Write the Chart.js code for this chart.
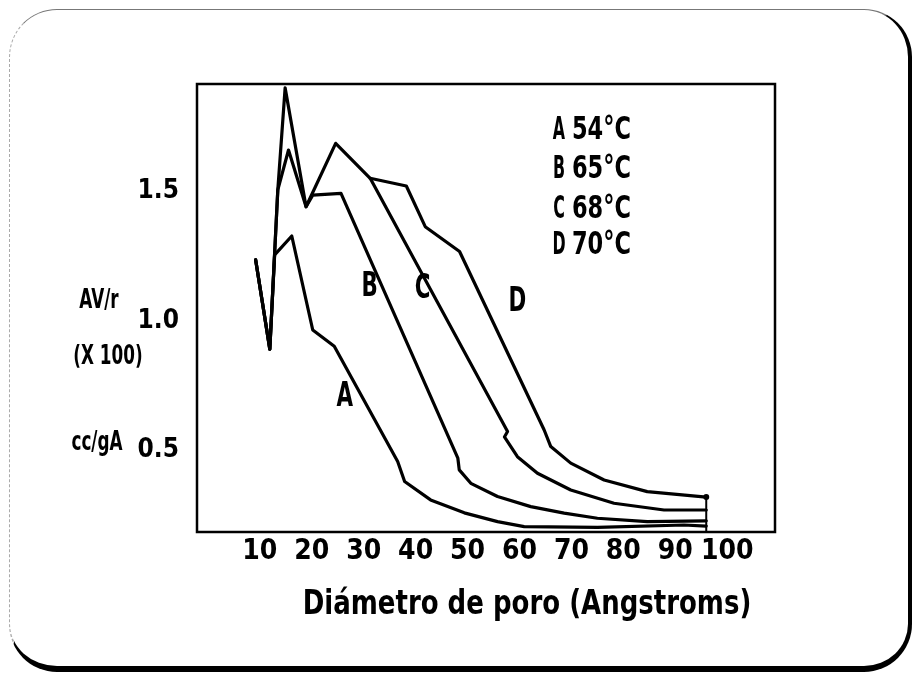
<!DOCTYPE html>
<html>
<head>
<meta charset="utf-8">
<script src="https://cdn.jsdelivr.net/npm/chart.js@4.4.1/dist/chart.umd.min.js"></script>
<style>
  html, body { margin: 0; padding: 0; background: #fff; }
  #wrap { position: relative; width: 920px; height: 684px; overflow: hidden; background: #fff; }
  #frame {
    position: absolute; left: 9px; top: 9px; width: 898px; height: 656px;
    border-radius: 48px;
    border-top: 1.5px solid #777;
    border-left: 1px dashed #aaa;
    border-right: 4px solid #000;
    border-bottom: 6px solid #000;
  }
  canvas { position: absolute; left: 0; top: 0; }
</style>
</head>
<body>
<div id="wrap">
  <div id="frame"></div>
  <canvas id="c" width="920" height="684"></canvas>
</div>
<script>
// ---------------- data ----------------
const xTicks = [10, 20, 30, 40, 50, 60, 70, 80, 90, 100];
const yTicks = [0.5, 1.0, 1.5];

const curveNames = ['A', 'B', 'C', 'D'];
const curveTemps = ['54°C', '65°C', '68°C', '70°C'];

const aX = [9.19, 11.92, 12.85, 16.15, 20.19, 24.33, 36.54, 37.88, 42.88, 49.37, 55.77, 60.9, 75.0, 91.67, 95.96];
const aY = [1.236, 0.891, 1.255, 1.328, 0.965, 0.902, 0.457, 0.380, 0.309, 0.259, 0.225, 0.206, 0.203, 0.212, 0.208];

const bX = [9.19, 11.92, 13.46, 15.52, 18.9, 20.19, 25.63, 48.13, 48.4, 50.63, 55.77, 62.17, 68.6, 75.0, 84.6, 95.96];
const bY = [1.236, 0.891, 1.506, 1.660, 1.441, 1.486, 1.493, 0.470, 0.425, 0.373, 0.322, 0.283, 0.258, 0.238, 0.225, 0.228];

const cX = [9.19, 11.92, 13.46, 14.87, 18.9, 24.6, 31.25, 57.7, 57.1, 59.6, 63.46, 69.87, 78.2, 87.83, 95.96];
const cY = [1.236, 0.891, 1.506, 1.900, 1.441, 1.686, 1.551, 0.573, 0.552, 0.476, 0.412, 0.347, 0.296, 0.270, 0.270];

const dX = [31.25, 38.21, 41.85, 48.46, 64.75, 66.02, 69.87, 76.29, 84.6, 95.96];
const dY = [1.551, 1.521, 1.364, 1.268, 0.579, 0.515, 0.451, 0.386, 0.341, 0.320];

const endLineX = [95.96, 95.96];
const endLineY = [0.17, 0.320];

const curveLabelX = [26.35, 31.15, 41.35, 59.6];
const curveLabelY = [0.703, 1.131, 1.12, 1.073];

const yTitleLines = ['AV/r', '(X 100)', 'cc/gA'];
const xTitle = 'Diámetro de poro (Angstroms)';

// ---------------- chart ----------------
const FONT = "'Liberation Sans Narrow', 'DejaVu Sans Condensed', 'Arial Narrow', sans-serif";
const pts = (xs, ys) => xs.map((x, i) => ({ x: x, y: ys[i] }));

function lineDs(label, data, extra) {
  return Object.assign({
    label: label, data: data,
    borderColor: '#000', backgroundColor: '#000',
    borderWidth: 3.2, pointRadius: 0, tension: 0,
    borderJoinStyle: 'round', borderCapStyle: 'round', fill: false
  }, extra || {});
}

// condensed bold text helper (scanned figure uses a very narrow heavy face)
function narrowText(ctx, text, x, y, size, sx, align) {
  ctx.save();
  ctx.font = "bold " + size + "px " + FONT;
  ctx.textBaseline = 'middle';
  ctx.textAlign = align || 'center';
  ctx.translate(x, y);
  ctx.scale(sx, 1);
  ctx.fillText(text, 0, 0);
  ctx.restore();
}

const overlay = {
  id: 'overlay',
  afterDatasetsDraw(chart) {
    const ctx = chart.ctx;
    const a = chart.chartArea;
    const xs = chart.scales.x, ys = chart.scales.y;
    ctx.save();
    ctx.strokeStyle = '#000';
    ctx.lineWidth = 2.5;
    ctx.strokeRect(a.left, a.top, a.right - a.left, a.bottom - a.top);
    ctx.fillStyle = '#000';
    // curve letters
    curveNames.forEach((n, i) => {
      narrowText(ctx, n, xs.getPixelForValue(curveLabelX[i]), ys.getPixelForValue(curveLabelY[i]), 33, 0.72);
    });
    // legend block
    const legY = [131, 170, 210, 246];
    curveNames.forEach((n, i) => {
      narrowText(ctx, n, 559, legY[i], 32, 0.55);
      narrowText(ctx, curveTemps[i], 572, legY[i], 32, 0.78, 'left');
    });
    // y title lines
    const yTitleX = [99, 108, 97];
    const yTitleY = [301, 357, 443];
    yTitleLines.forEach((t, i) => narrowText(ctx, t, yTitleX[i], yTitleY[i], 26, 0.72));
    // x title
    narrowText(ctx, xTitle, 527, 605, 34, 0.85);
    ctx.restore();
  }
};

new Chart(document.getElementById('c'), {
  type: 'line',
  data: {
    datasets: [
      lineDs('A ' + curveTemps[0], pts(aX, aY)),
      lineDs('B ' + curveTemps[1], pts(bX, bY)),
      lineDs('C ' + curveTemps[2], pts(cX, cY)),
      lineDs('D ' + curveTemps[3], pts(dX, dY), {
        pointRadius: dX.map((v, i) => i === dX.length - 1 ? 3 : 0),
        pointBorderWidth: 0
      }),
      lineDs('end', pts(endLineX, endLineY), { borderWidth: 2, borderCapStyle: 'butt' })
    ]
  },
  options: {
    responsive: false,
    animation: false,
    devicePixelRatio: 1,
    layout: { padding: { top: 84, right: 145, bottom: 0, left: 0 } },
    plugins: { legend: { display: false }, tooltip: { enabled: false } },
    scales: {
      x: {
        type: 'linear', min: -2.1, max: 109.2,
        grid: { display: false, drawTicks: false },
        border: { display: false },
        afterBuildTicks: s => { s.ticks = xTicks.map(v => ({ value: v })); },
        afterFit: s => { s.height = 152; },
        ticks: {
          autoSkip: false, maxRotation: 0, padding: 3, color: '#000',
          font: { family: FONT, size: 28, weight: 'bold' },
          callback: v => String(v)
        }
      },
      y: {
        type: 'linear', min: 0.185, max: 1.915,
        grid: { display: false, drawTicks: false },
        border: { display: false },
        afterBuildTicks: s => { s.ticks = yTicks.map(v => ({ value: v })); },
        afterFit: s => { s.width = 197; },
        ticks: {
          padding: 18, color: '#000',
          font: { family: FONT, size: 26, weight: 'bold' },
          callback: v => Number(v).toFixed(1)
        }
      }
    }
  },
  plugins: [overlay]
});
</script>
</body>
</html>
